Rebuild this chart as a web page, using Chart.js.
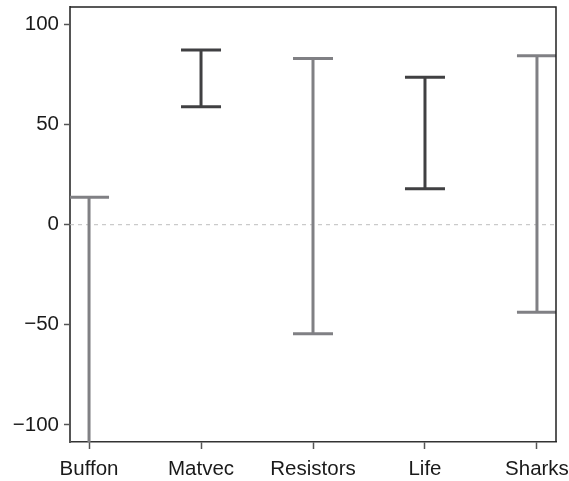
<!DOCTYPE html>
<html>
<head>
<meta charset="utf-8">
<script src="https://cdn.jsdelivr.net/npm/chart.js@4.4.1/dist/chart.umd.min.js"></script>
<style>
  html, body { margin: 0; padding: 0; background: #fff; }
  canvas { display: block; }
</style>
</head>
<body>
<canvas id="myChart01" width="569" height="481"></canvas>
<script>
// interval plot: upper and lower ends of each range
var categories = ["Buffon", "Matvec", "Resistors", "Life", "Sharks"];
var upper = [13.7, 87.2, 83.0, 73.6, 84.4];
var lower = [-125, 58.9, -54.5, 17.9, -43.7];
var yTicks = [-100, -50, 0, 50, 100];

var light = "rgb(128,128,132)";
var dark = "rgb(64,64,66)";
var barColors = [light, dark, light, dark, light];

var datasets = categories.map(function (name, i) {
    return {
        label: name,
        data: [{x: i, y: lower[i]}, {x: i, y: upper[i]}],
        borderColor: barColors[i],
        borderWidth: 3,
        pointStyle: "line",
        pointRadius: 20,
        pointHoverRadius: 20,
        pointBorderWidth: 3,
        pointBorderColor: barColors[i],
        pointBackgroundColor: barColors[i],
        fill: false
    };
});

var frameAndZero = {
    id: "frameAndZero",
    beforeDatasetsDraw: function (chart) {
        var ctx = chart.ctx, a = chart.chartArea;
        var y0 = chart.scales.y.getPixelForValue(0);
        ctx.save();
        ctx.strokeStyle = "rgb(190,190,190)";
        ctx.lineWidth = 1;
        ctx.setLineDash([4, 4]);
        ctx.beginPath();
        ctx.moveTo(a.left, y0);
        ctx.lineTo(a.right, y0);
        ctx.stroke();
        ctx.restore();
    },
    afterDraw: function (chart) {
        var ctx = chart.ctx, a = chart.chartArea;
        ctx.save();
        ctx.strokeStyle = "#222";
        ctx.lineWidth = 1.5;
        ctx.beginPath();
        ctx.moveTo(a.left, a.top);
        ctx.lineTo(a.right, a.top);
        ctx.lineTo(a.right, a.bottom);
        ctx.stroke();
        ctx.restore();
    }
};

var tickFont = {family: "'Liberation Sans', Arial, sans-serif", size: 20.5};

function noLabelPadding(scale) {
    scale.paddingTop = 0;
    scale.paddingBottom = 0;
    scale.paddingLeft = 0;
    scale.paddingRight = 0;
}

new Chart(document.getElementById("myChart01"), {
    type: "line",
    data: {datasets: datasets},
    options: {
        responsive: false,
        animation: false,
        layout: {autoPadding: false, padding: {left: 4, top: 7, right: 13, bottom: 0}},
        plugins: {legend: {display: false}, tooltip: {enabled: false}},
        scales: {
            x: {
                type: "linear",
                min: -0.17,
                max: 4.17,
                afterBuildTicks: function (scale) {
                    scale.ticks = categories.map(function (c, i) { return {value: i}; });
                },
                afterFit: function (scale) { scale.height = 39; noLabelPadding(scale); },
                ticks: {
                    font: tickFont,
                    color: "#1a1a1a",
                    padding: 8,
                    maxRotation: 0,
                    autoSkip: false,
                    callback: function (v) { return categories[v]; }
                },
                grid: {drawOnChartArea: false, tickLength: 7, tickColor: "#555", tickWidth: 1.5},
                border: {color: "#333", width: 1.5}
            },
            y: {
                min: -108.5,
                max: 108.7,
                afterBuildTicks: function (scale) {
                    scale.ticks = yTicks.map(function (v) { return {value: v}; });
                },
                afterFit: function (scale) { scale.width = 66; noLabelPadding(scale); },
                ticks: {
                    font: tickFont,
                    color: "#1a1a1a",
                    padding: 5,
                    callback: function (v) { return v < 0 ? "\u2212" + Math.abs(v) : String(v); }
                },
                grid: {drawOnChartArea: false, tickLength: 6, tickColor: "#555", tickWidth: 1.5},
                border: {color: "#555", width: 2}
            }
        }
    },
    plugins: [frameAndZero]
});
</script>
</body>
</html>
